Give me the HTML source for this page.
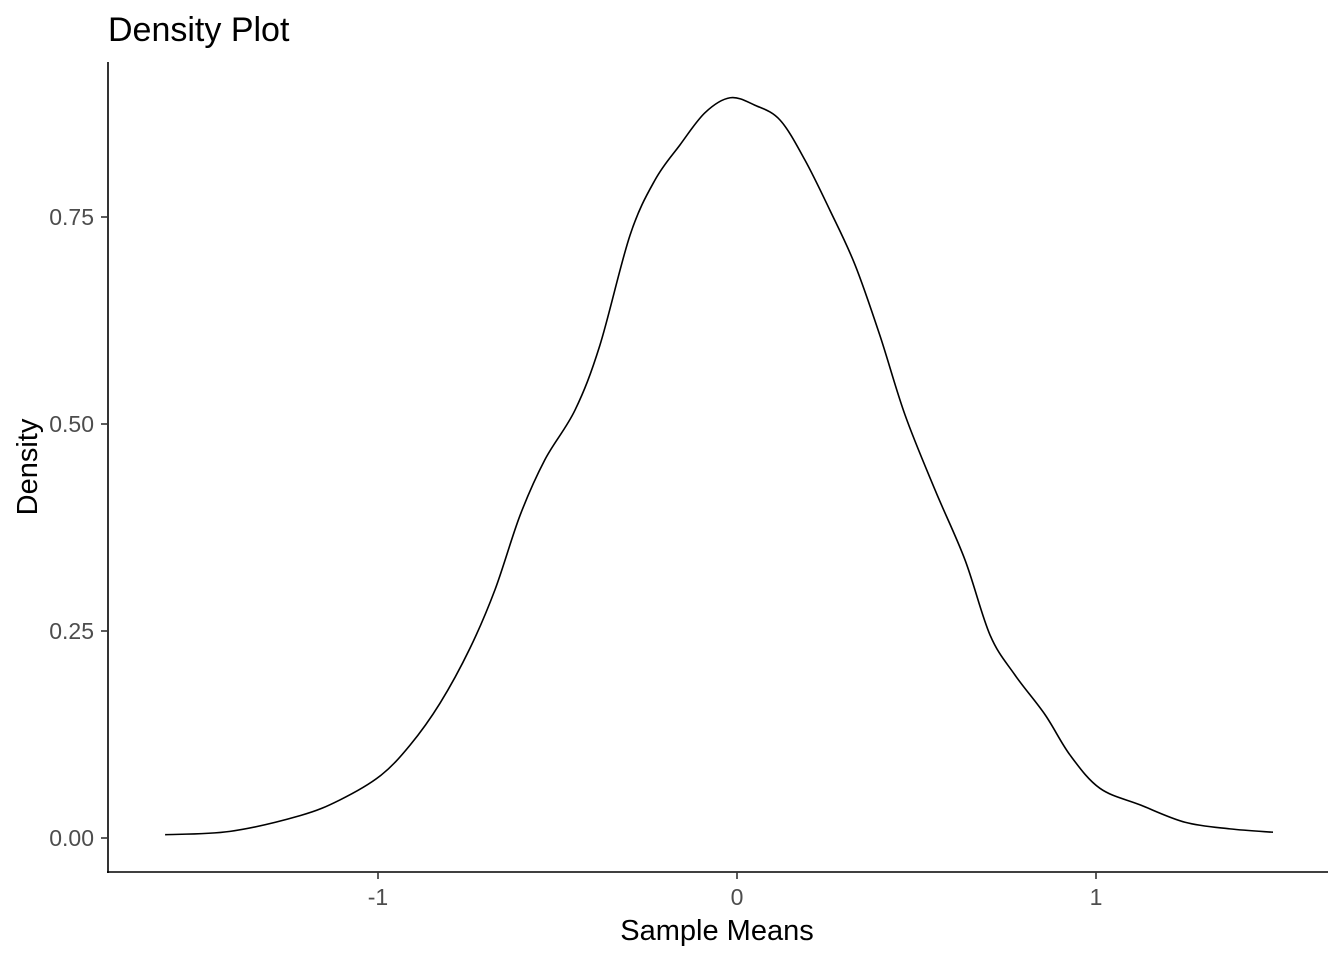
<!DOCTYPE html>
<html><head><meta charset="utf-8"><style>
body{margin:0;background:#fff;}
svg{display:block;font-family:"Liberation Sans",Arial,sans-serif;}
</style></head><body>
<svg width="1344" height="960" viewBox="0 0 1344 960" xmlns="http://www.w3.org/2000/svg">
<text x="108" y="41" font-size="34" fill="#000">Density Plot</text>
<g id="axes"></g>
<path id="curve" fill="none" stroke="#000" stroke-width="1.6"/>
<text x="717" y="940" font-size="29" text-anchor="middle">Sample Means</text>
<text transform="translate(37,467) rotate(-90)" font-size="29" text-anchor="middle">Density</text>
</svg>
<script>
const xs=[-1.593,-1.412,-1.217,-1.106,-0.994,-0.911,-0.827,-0.744,-0.674,-0.604,-0.535,-0.451,-0.382,-0.298,-0.228,-0.159,-0.089,-0.019,0.050,0.120,0.189,0.259,0.329,0.398,0.468,0.552,0.635,0.705,0.774,0.858,0.928,1.011,1.123,1.248,1.373,1.493];
const ys=[0.004,0.008,0.027,0.046,0.075,0.112,0.163,0.229,0.300,0.390,0.457,0.517,0.595,0.728,0.795,0.837,0.876,0.894,0.885,0.867,0.819,0.758,0.692,0.607,0.511,0.420,0.336,0.245,0.197,0.149,0.100,0.060,0.040,0.019,0.011,0.007];
const xTicks=[-1,0,1];
const xTickLabels=["-1","0","1"];
const yTicks=[0,0.25,0.5,0.75];
const yTickLabels=["0.00","0.25","0.50","0.75"];
const X=v=>737+v*359, Y=v=>838-v*828;
const NS="http://www.w3.org/2000/svg";
const g=document.getElementById('axes');
function mk(t,a){const e=document.createElementNS(NS,t);for(const k in a)e.setAttribute(k,a[k]);g.appendChild(e);return e;}
let ax=mk('line',{x1:108,y1:62,x2:108,y2:873,stroke:'#000','stroke-width':1.6});


ax=mk('line',{x1:107,y1:872,x2:1328,y2:872,stroke:'#000','stroke-width':1.6});


xTicks.forEach((v,i)=>{
 const l=mk('line',{x1:X(v),x2:X(v),y1:872,y2:879,stroke:'#333','stroke-width':1.6});
 
 
 const t=mk('text',{x:X(v),y:905,'font-size':23,'text-anchor':'middle',fill:'#4d4d4d'});
 t.textContent=xTickLabels[i];
 
 
});
yTicks.forEach((v,i)=>{
 const l=mk('line',{x1:101,x2:108,y1:Y(v),y2:Y(v),stroke:'#333','stroke-width':1.6});
 
 
 const t=mk('text',{x:94,y:Y(v)+8,'font-size':23,'text-anchor':'end',fill:'#4d4d4d'});
 t.textContent=yTickLabels[i];
 
 
});
const P=xs.map((x,i)=>[X(x),Y(ys[i])]);
let d='M'+P[0][0]+','+P[0][1];
for(let i=0;i<P.length-1;i++){
 const p0=P[Math.max(0,i-1)],p1=P[i],p2=P[i+1],p3=P[Math.min(P.length-1,i+2)];
 const c1=[p1[0]+(p2[0]-p0[0])/6,p1[1]+(p2[1]-p0[1])/6];
 const c2=[p2[0]-(p3[0]-p1[0])/6,p2[1]-(p3[1]-p1[1])/6];
 d+=` C${c1[0]},${c1[1]} ${c2[0]},${c2[1]} ${p2[0]},${p2[1]}`;
}
document.getElementById('curve').setAttribute('d',d);
</script>
</body></html>
